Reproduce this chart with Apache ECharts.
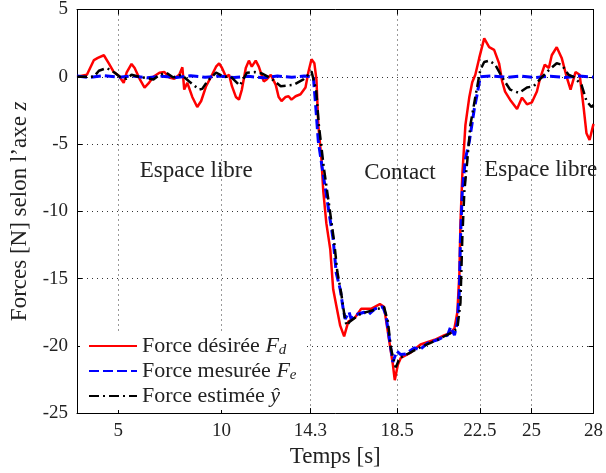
<!DOCTYPE html>
<html>
<head>
<meta charset="utf-8">
<script src="https://cdn.jsdelivr.net/npm/echarts@6/dist/echarts.min.js"></script>
<style>
  html, body { margin: 0; padding: 0; background: #fff; }
  #chart { width: 606px; height: 473px; }
</style>
</head>
<body>
<div id="chart"></div>
<script>
// x ticks (irregular) and their labels
const xTicks = [5, 10, 14.3, 18.5, 22.5, 25, 28];
const xTickLabels = ['5', '10', '14.3', '18.5', '22.5', '25', '28'];

// Force desiree F_d
const fdT = [3.0, 3.48, 3.82, 4.01, 4.30, 4.54, 4.78, 5.02, 5.26, 5.40, 5.64, 5.79, 6.03, 6.27, 6.46, 6.70, 6.99, 7.23, 7.47, 7.71, 7.95, 8.10, 8.19, 8.34, 8.58, 8.82, 9.01, 9.25, 9.49, 9.73, 9.88, 10.02, 10.21, 10.36, 10.50, 10.69, 10.84, 10.98, 11.17, 11.32, 11.46, 11.65, 11.80, 12.04, 12.18, 12.38, 12.62, 12.76, 12.90, 13.10, 13.24, 13.38, 13.58, 13.82, 14.06, 14.20, 14.35, 14.49, 14.59, 14.68, 14.83, 14.92, 15.07, 15.26, 15.40, 15.55, 15.74, 15.93, 16.13, 16.46, 16.75, 17.23, 17.66, 17.86, 17.95, 18.14, 18.29, 18.38, 18.53, 18.67, 19.15, 19.63, 20.31, 20.79, 21.08, 21.27, 21.41, 21.51, 21.56, 21.65, 21.80, 21.99, 22.13, 22.28, 22.47, 22.71, 22.95, 23.19, 23.43, 23.58, 23.72, 23.96, 24.30, 24.54, 24.78, 25.02, 25.26, 25.40, 25.64, 25.84, 25.98, 26.22, 26.46, 26.70, 26.89, 27.13, 27.33, 27.52, 27.66, 27.81, 28.0];
const fdF = [0, 0.15, 1.24, 1.4, 1.6, 1.0, 0.35, 0.07, -0.45, 0.3, 0.95, 0.65, -0.15, -0.8, -0.5, 0, 0.3, 0.35, -0.05, -0.15, 0.15, 0.7, -0.95, -0.45, -1.5, -2.25, -1.8, -0.7, 0, 0.75, 1.0, 0.65, 0, 0.15, -0.7, -1.5, -1.7, -0.95, 0.65, 1.2, 0.75, 1.2, 0.75, -0.35, -0.2, 0.15, -0.6, -1.5, -1.8, -1.5, -1.45, -1.7, -1.45, -1.3, -0.8, 0.35, 1.3, 1.0, -0.2, -3.6, -6.1, -8.5, -10.9, -12.85, -15.8, -17, -18.5, -19.3, -18.2, -17.9, -17.25, -17.25, -16.9, -17.1, -18, -19.9, -21.4, -22.55, -21.4, -20.9, -20.5, -19.9, -19.55, -19.2, -19.05, -18.7, -17.5, -14.6, -10.9, -7.3, -3.6, -1.5, -0.4, 0.15, 1.4, 2.85, 2.2, 2.0, 1.0, -0.35, -1.1, -1.7, -2.4, -1.55, -2.05, -1.9, -1.1, -0.2, 0.9, 0.65, 1.6, 2.2, 1.4, 0, -0.95, 0.35, 0.15, -2.25, -4.2, -4.7, -3.5];

// Force mesuree F_e
const feT = [3.0, 3.6, 4.3, 5.0, 5.7, 6.4, 7.1, 7.8, 8.5, 9.2, 9.9, 10.6, 11.3, 12.0, 12.7, 13.4, 14.0, 14.44, 14.54, 14.68, 14.92, 15.16, 15.40, 15.55, 15.74, 15.88, 15.98, 16.17, 16.27, 16.46, 16.90, 17.09, 17.42, 17.80, 17.95, 18.14, 18.29, 18.38, 18.48, 18.67, 18.91, 19.34, 19.58, 19.97, 20.45, 20.94, 21.08, 21.27, 21.41, 21.51, 21.56, 21.65, 21.80, 21.99, 22.23, 22.38, 22.52, 23.1, 23.8, 24.5, 25.2, 25.9, 26.6, 27.3, 28.0];
const feF = [0.05, -0.05, 0.08, -0.03, 0.06, -0.08, 0.04, -0.05, 0.07, -0.04, 0.05, -0.06, 0.03, -0.07, 0.05, -0.04, 0.06, 0, -1.9, -4.8, -7.3, -9.7, -12.1, -14.6, -15.8, -17.2, -18, -17.5, -18, -17.7, -17.5, -17.7, -17.25, -17.1, -17.7, -19.7, -21.2, -21.3, -20.4, -20.65, -20.6, -20.15, -20.3, -19.8, -19.55, -19.2, -18.6, -19.2, -18.25, -15.8, -12.1, -8.5, -6.1, -4.8, -2.4, -1.2, 0, 0.06, -0.04, 0.05, -0.06, 0.04, -0.05, 0.06, -0.03];

// Force estimee y-hat
const yhT = [3.0, 3.82, 4.06, 4.44, 4.83, 5.07, 5.40, 5.64, 5.98, 6.37, 6.70, 6.99, 7.33, 7.66, 8.05, 8.43, 8.91, 9.06, 9.30, 9.73, 10.12, 10.45, 10.88, 11.22, 11.60, 11.94, 12.38, 12.86, 13.48, 13.96, 14.35, 14.44, 14.58, 14.70, 14.95, 15.20, 15.45, 15.60, 15.78, 15.95, 16.05, 16.20, 16.75, 17.57, 17.86, 18.05, 18.19, 18.38, 18.43, 18.62, 19.01, 19.63, 20.45, 21.08, 21.41, 21.56, 21.65, 21.75, 21.90, 22.04, 22.28, 22.52, 22.71, 22.95, 23.24, 23.58, 23.96, 24.40, 24.78, 25.11, 25.40, 25.84, 26.22, 26.46, 26.79, 27.08, 27.42, 27.66, 27.90, 28.0];
const yhF = [0, 0, 0.45, 0.65, 0.3, 0, -0.15, 0.15, 0, -0.1, -0.2, 0.15, 0.3, -0.05, 0.15, -0.35, -0.95, -0.9, -0.35, 0.3, 0, 0, -0.65, 0.3, 0.35, 0.25, -0.1, -0.7, -0.6, -0.2, 0.4, 0.5, -1.0, -3.5, -6.8, -9.5, -12.3, -14.5, -16, -17.8, -18.5, -18.2, -17.6, -17.25, -17.1, -18.2, -20.15, -21.4, -21.6, -20.9, -20.6, -20.1, -19.55, -19.05, -18.7, -16.8, -12, -8.5, -6.1, -3.6, -1.5, 0.5, 1.1, 1.2, 0.9, -0.05, -0.95, -1.2, -0.8, -0.7, -0.2, 0.5, 1.0, 0.9, 0.15, -0.05, -0.6, -1.8, -2.25, -2.1];

const seriesNames = ['Force désirée Fd', 'Force mesurée Fe', 'Force estimée yhat'];
const legendLabels = ['Force désirée {i|F}{s|d}', 'Force mesurée {i|F}{s|e}', 'Force estimée {i|ŷ}'];

// annotations
const noteText = ['Espace libre', 'Contact', 'Espace libre'];
const noteX = [8.77, 18.63, 25.45];
const noteY = [-7.0, -7.15, -6.9];

const serif = 'Liberation Serif';
const txt = '#222';
const pair = (t, f) => t.map((x, i) => [x, f[i]]);

const chart = echarts.init(document.getElementById('chart'));

const boxAxis = {
  axisLine: { show: true, onZero: false, lineStyle: { color: '#000', width: 1 } },
  axisTick: { show: true, inside: true, length: 5, lineStyle: { color: '#000' } },
  axisLabel: { show: false },
  splitLine: { show: false }
};

const option = {
  animation: false,
  backgroundColor: '#fff',
  grid: { left: 77, right: 9, top: 9, bottom: 53, containLabel: false },
  xAxis: [
    {
      type: 'value', min: 3, max: 28, position: 'bottom',
      axisLine: { show: true, onZero: false, lineStyle: { color: '#000', width: 1 } },
      axisTick: { show: true, inside: true, length: 5, customValues: xTicks, lineStyle: { color: '#000' } },
      axisLabel: {
        customValues: xTicks, margin: 8,
        formatter: v => xTickLabels[xTicks.indexOf(v)] ?? String(v),
        fontFamily: serif, fontSize: 19, color: txt
      },
      splitLine: { show: true, lineStyle: { type: [1, 4], color: '#333', width: 1 } },
      name: 'Temps [s]', nameLocation: 'middle', nameGap: 27,
      nameTextStyle: { fontFamily: serif, fontSize: 23, color: txt }
    },
    Object.assign({ type: 'value', min: 3, max: 28, position: 'top' }, boxAxis, {
      axisTick: { show: true, inside: true, length: 5, customValues: xTicks, lineStyle: { color: '#000' } }
    })
  ],
  yAxis: [
    {
      type: 'value', min: -25, max: 5, interval: 5, position: 'left',
      axisLine: { show: true, onZero: false, lineStyle: { color: '#000', width: 1 } },
      axisTick: { show: true, inside: true, length: 5, lineStyle: { color: '#000' } },
      axisLabel: { margin: 9, fontFamily: serif, fontSize: 19, color: txt },
      splitLine: { show: true, lineStyle: { type: [1, 4], color: '#333', width: 1 } },
      name: 'Forces [N] selon l’axe {i|z}', nameLocation: 'middle', nameGap: 44,
      nameTextStyle: {
        fontFamily: serif, fontSize: 23, color: txt,
        rich: { i: { fontFamily: serif, fontSize: 23, fontStyle: 'italic', color: txt } }
      }
    },
    Object.assign({ type: 'value', min: -25, max: 5, interval: 5, position: 'right' }, boxAxis)
  ],
  legend: {
    data: seriesNames,
    orient: 'vertical', left: 80, top: 332,
    itemWidth: 48, itemHeight: 14, itemGap: 2,
    backgroundColor: '#fff', padding: [3, 8, 3, 8],
    itemStyle: { opacity: 0 },
    formatter: name => legendLabels[seriesNames.indexOf(name)],
    textStyle: {
      fontFamily: serif, fontSize: 22, color: txt,
      rich: {
        i: { fontFamily: serif, fontSize: 22, fontStyle: 'italic', color: txt },
        s: { fontFamily: serif, fontSize: 15, fontStyle: 'italic', color: txt, padding: [9, 0, 0, 0] }
      }
    }
  },
  series: [
    {
      name: seriesNames[0], type: 'line', data: pair(fdT, fdF),
      showSymbol: false, symbol: 'none',
      lineStyle: { color: '#ff0000', width: 2.5 }, itemStyle: { color: '#ff0000' }
    },
    {
      name: seriesNames[1], type: 'line', data: pair(feT, feF),
      showSymbol: false, symbol: 'none',
      lineStyle: { color: '#0000ff', width: 3, type: [10, 4] }, itemStyle: { color: '#0000ff' }
    },
    {
      name: seriesNames[2], type: 'line', data: pair(yhT, yhF),
      showSymbol: false, symbol: 'none',
      lineStyle: { color: '#000', width: 2.5, type: [10, 4, 2, 4] }, itemStyle: { color: '#000' }
    }
  ]
};

chart.setOption(option);

// place the region labels from data coordinates
const notes = noteText.map((t, i) => {
  const p = chart.convertToPixel({ gridIndex: 0 }, [noteX[i], noteY[i]]);
  return {
    type: 'text', x: p[0], y: p[1], z: 5,
    style: { text: t, fontFamily: serif, fontSize: 23, fill: txt, align: 'center', verticalAlign: 'middle' }
  };
});
chart.setOption({ graphic: notes });
</script>
</body>
</html>
